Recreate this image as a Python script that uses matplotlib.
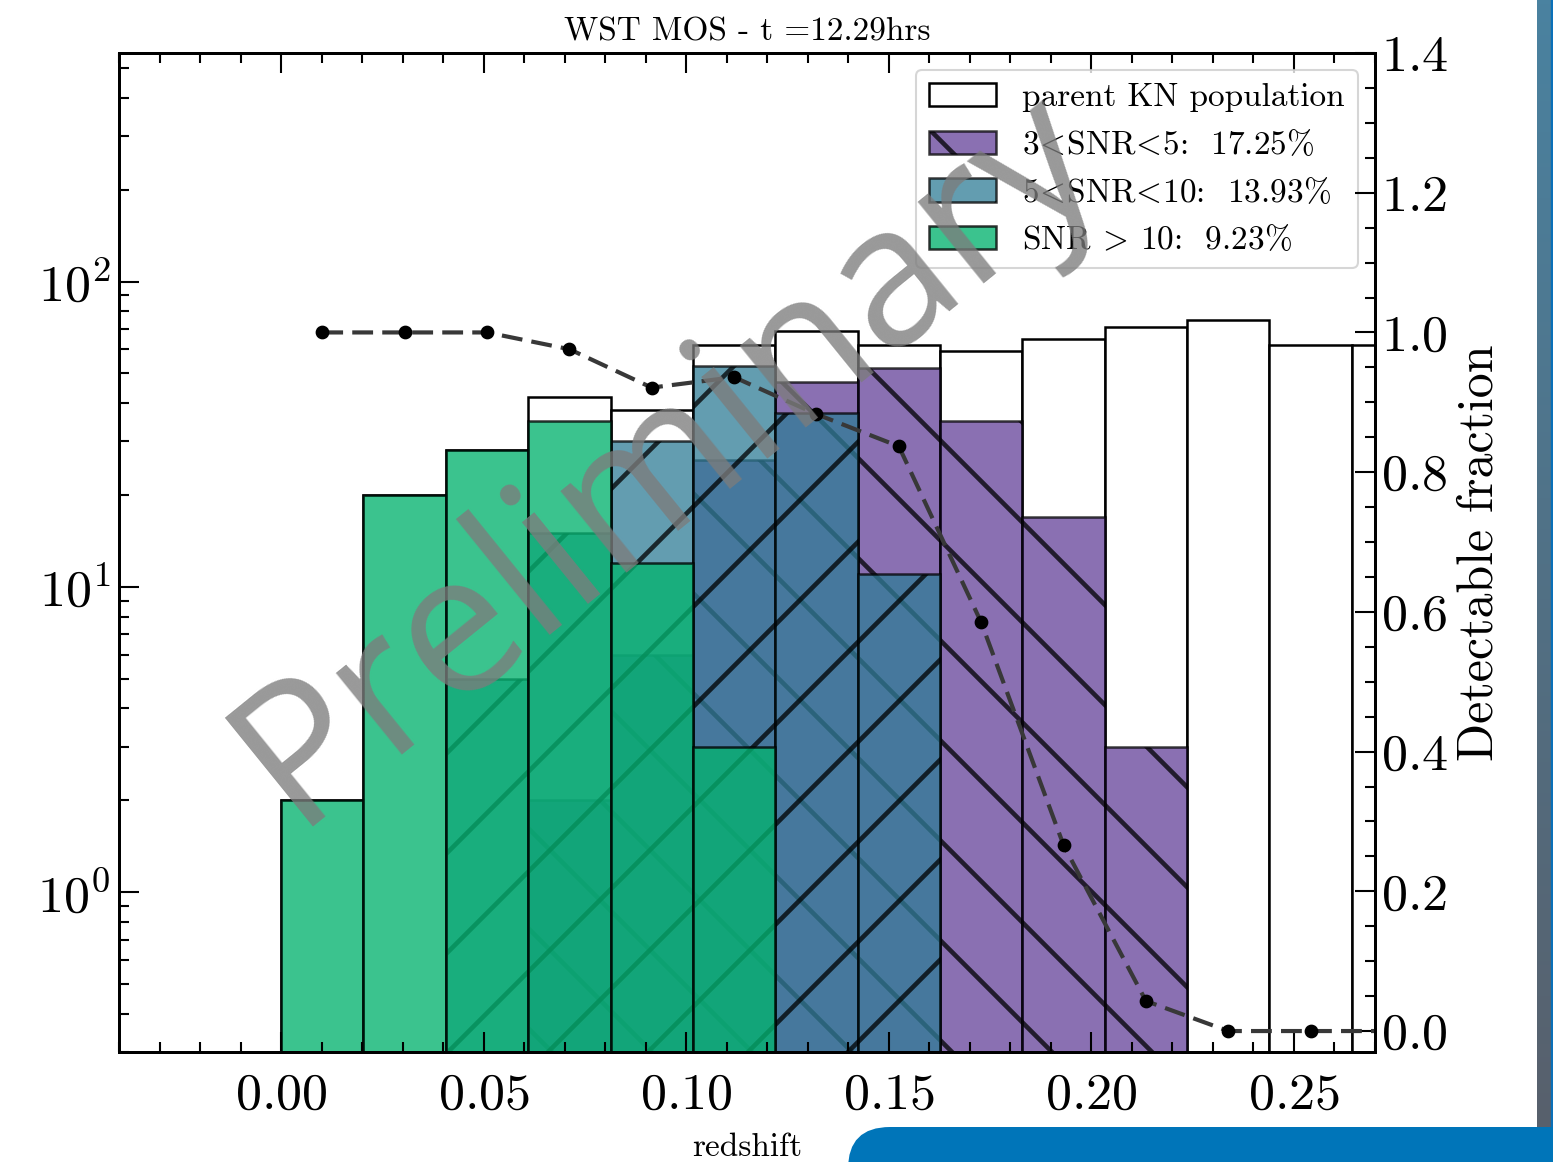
import numpy as np
import matplotlib
matplotlib.use("Agg")
import matplotlib.pyplot as plt
from matplotlib.ticker import MultipleLocator, LogLocator, NullFormatter
from matplotlib.patches import FancyBboxPatch

plt.rcParams['font.family'] = ['cmr10', 'DejaVu Sans']
plt.rcParams['mathtext.fontset'] = 'cm'
plt.rcParams['axes.formatter.use_mathtext'] = True
plt.rcParams['hatch.linewidth'] = 1.1
plt.rcParams['axes.unicode_minus'] = False

# redshift binning
bin_width = 0.02033
n_bins = 14

# counts per redshift bin
parent_kn = [2, 20, 28, 42, 38, 62, 69, 62, 59, 65, 71, 75, 62, 62]
snr_3_5 = [0, 0, 0, 2, 6, 26, 47, 52, 35, 17, 3, 0, 0, 0]
snr_5_10 = [0, 0, 5, 15, 30, 53, 37, 11, 0, 0, 0, 0, 0, 0]
snr_10 = [2, 20, 28, 35, 12, 3, 0, 0, 0, 0, 0, 0, 0, 0]

# fraction of detectable kilonovae per bin
det_frac = [1.0, 1.0, 1.0, 0.976, 0.921, 0.936, 0.883, 0.837,
            0.585, 0.266, 0.043, 0.0, 0.0, 0.0]

labels = ["parent KN population",
          r"3$\!<\!$SNR$\!<\!$5:  17.25%",
          r"5$\!<\!$SNR$\!<\!$10:  13.93%",
          r"SNR $\!>\!$ 10:  9.23%"]

edges = np.arange(n_bins + 1) * bin_width
left = edges[:-1]
centers = 0.5 * (edges[:-1] + edges[1:])

W, H, DPI = 1553, 1162, 300
fig = plt.figure(figsize=(W / DPI, H / DPI), dpi=DPI)
ax = fig.add_axes([119 / W, 1 - 1052 / H, (1375 - 119) / W, (1052 - 53) / H])
ax.set_yscale('log')


def draw(counts, **kw):
    c = np.asarray(counts, float)
    m = c > 0
    return ax.bar(left[m], c[m], width=bin_width, align='edge',
                  edgecolor='k', linewidth=0.6, **kw)


draw(parent_kn, color='white', label=labels[0])
draw(snr_3_5, color='#634098', alpha=0.75, hatch='\\', label=labels[1])
draw(snr_5_10, color='#2f7c96', alpha=0.75, hatch='/', label=labels[2])
draw(snr_10, color='#04b36f', alpha=0.78, label=labels[3])

ax.set_xlim(-0.04, 0.27)
ax.set_ylim(0.3, 560)
ax.xaxis.set_major_locator(MultipleLocator(0.05))
ax.xaxis.set_minor_locator(MultipleLocator(0.01))
ax.yaxis.set_major_locator(LogLocator(base=10))
ax.yaxis.set_minor_locator(LogLocator(base=10, subs=np.arange(2, 10)))
ax.yaxis.set_minor_formatter(NullFormatter())
ax.tick_params(which='both', direction='in', top=True, bottom=True,
               left=True, right=False, width=0.5)
ax.tick_params(which='major', length=4.8, labelsize=12.5)
ax.tick_params(which='minor', length=2.4)
ax.tick_params(axis='x', which='major', pad=5)
ax.tick_params(axis='y', which='major', pad=2)
for s in ax.spines.values():
    s.set_linewidth(0.7)

ax.set_title("WST MOS - t =12.29hrs", fontsize=8, pad=3)
ax.set_xlabel("redshift", fontsize=8, labelpad=3.5)

leg = ax.legend(loc='upper right', fontsize=8, labelspacing=0.5,
                fancybox=True, framealpha=0.8, edgecolor='0.8')
leg.get_frame().set_linewidth(0.5)

ax2 = ax.twinx()
ax2.plot(centers, det_frac, ls='--', dashes=(5, 2.2), color='0.22', lw=1.0,
         marker='o', ms=2.3, mfc='k', mec='k')
ax2.set_ylim(-0.03, 1.4)
ax2.yaxis.set_major_locator(MultipleLocator(0.2))
ax2.yaxis.set_minor_locator(MultipleLocator(0.05))
ax2.tick_params(which='both', direction='in', right=True, left=False,
                width=0.5)
ax2.tick_params(which='major', length=4.8, labelsize=12.5, pad=1.5)
ax2.tick_params(which='minor', length=2.4)
ax2.set_ylabel("Detectable fraction", fontsize=12, labelpad=2)
for s in ax2.spines.values():
    s.set_linewidth(0.7)

# watermark
fig.text(700 / W, 1 - 498 / H, "Preliminary", fontsize=47,
         family='Open Sans', color='#7c7c7c', alpha=0.78,
         rotation=39, rotation_mode='anchor', ha='center', va='baseline',
         zorder=20)

# slide decorations: side strip and bottom banner
strip = fig.add_axes([1537 / W, 1 - 1128 / H, 16 / W, 1128 / H])
grad = np.linspace(0, 1, 256)[:, None]
top_c = np.array([74, 130, 160]) / 255
bot_c = np.array([88, 96, 108]) / 255
img = top_c[None, None, :] * (1 - grad[..., None]) + bot_c[None, None, :] * grad[..., None]
strip.imshow(img, aspect='auto', extent=(0, 1, 0, 1))
strip.axvline(0.93, color='#0a70b8', lw=0.8)
strip.set_axis_off()

banner = FancyBboxPatch((848 / DPI, -0.5), (W - 848) / DPI + 0.5,
                        0.5 + (H - 1127) / DPI,
                        boxstyle='round,pad=0,rounding_size=0.14',
                        transform=fig.dpi_scale_trans, facecolor='#0075b9',
                        edgecolor='none', zorder=30)
fig.add_artist(banner)

fig.savefig('out.png', dpi=DPI)
